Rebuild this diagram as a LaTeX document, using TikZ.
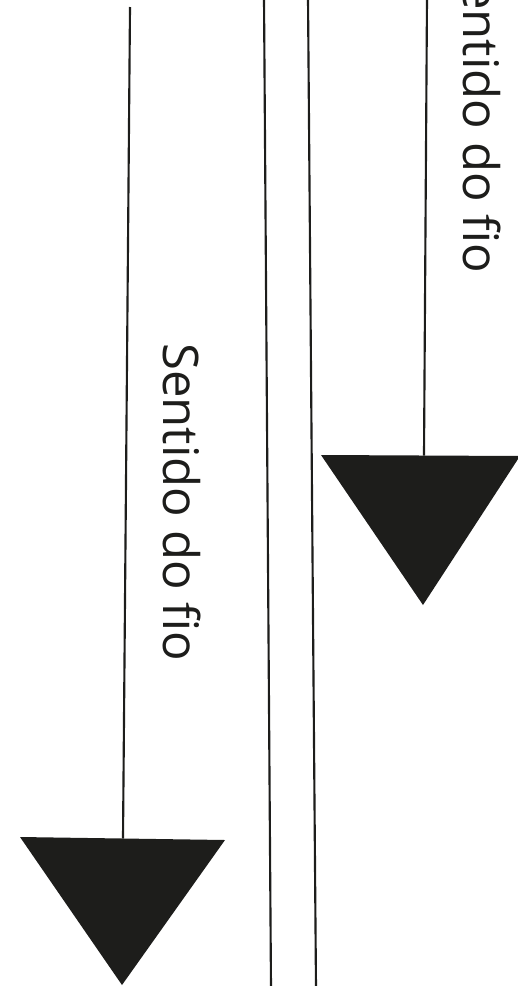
\documentclass[tikz,border=0pt]{standalone}
\usepackage{fontspec}
\setmainfont{Open Sans}
\definecolor{clrInk}{RGB}{29,29,27}
\tikzset{
  fio/.style={line width=1.6pt,draw=clrInk},
  seta/.style={fill=clrInk},
  rotulo/.style={font=\fontsize{36.8}{42}\selectfont,text=clrInk,rotate=-90,
    anchor=base west,inner sep=0pt}
}
\begin{document}
\begin{tikzpicture}[x=0.75pt,y=-0.75pt]
  \clip (0,0) rectangle (518,986);
  % fold lines
  \coordinate (foldAtop) at (264,-2);
  \coordinate (foldAbot) at (271,988);
  \coordinate (foldBtop) at (308,-2);
  \coordinate (foldBbot) at (316,988);
  \draw[fio] (foldAtop) -- (foldAbot);
  \draw[fio] (foldBtop) -- (foldBbot);
  % left grain arrow
  \coordinate (esqTop) at (130,7);
  \coordinate (esqL) at (20,837);
  \coordinate (esqR) at (225,840);
  \coordinate (esqTip) at (122,985);
  \coordinate (esqBase) at (123,838.5);
  \draw[fio] (esqTop) -- (esqBase);
  \fill[seta] (esqL) -- (esqR) -- (esqTip) -- cycle;
  \node[rotulo] (txtEsq) at (163,343) {Sentido do fio};
  % right grain arrow
  \coordinate (dirTop) at (427,-2);
  \coordinate (dirL) at (321,455);
  \coordinate (dirR) at (520,456);
  \coordinate (dirTip) at (423,605);
  \coordinate (dirBase) at (424,455.5);
  \draw[fio] (dirTop) -- (dirBase);
  \fill[seta] (dirL) -- (dirR) -- (dirTip) -- cycle;
  \node[rotulo] (txtDir) at (463,-45) {Sentido do fio};
\end{tikzpicture}
\end{document}
